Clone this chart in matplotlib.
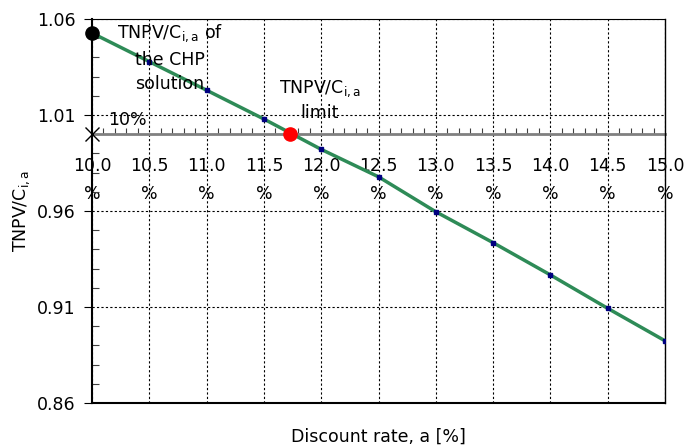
import numpy as np
import matplotlib.pyplot as plt
from matplotlib.ticker import MultipleLocator

rates = [10.0, 10.5, 11.0, 11.5, 12.0, 12.5, 13.0, 13.5, 14.0, 14.5, 15.0]
tnpv = [1.0527, 1.0378, 1.0229, 1.0079, 0.9921, 0.9778, 0.9596, 0.9435, 0.9267, 0.9093, 0.8924]
chp_rate, chp_value = 10.0, 1.0527
limit_rate, limit_value = 11.73, 1.0
yticks = [0.86, 0.91, 0.96, 1.01, 1.06]

plt.rcParams['font.family'] = 'DejaVu Sans'
plt.rcParams['font.size'] = 12.5

fig = plt.figure(figsize=(6.88, 4.47), dpi=100)
ax = fig.add_axes([0.1337, 0.0984, 0.8329, 0.8591])

ax.plot(rates, tnpv, color='#2e8b57', lw=2.5, zorder=3)
ax.plot(rates, tnpv, 's', color='#000080', ms=3, zorder=4)
ax.plot(chp_rate, chp_value, 'o', color='black', ms=9.5, zorder=5, clip_on=False)
ax.plot(limit_rate, limit_value, 'o', color='red', ms=9.5, zorder=5)
ax.plot(chp_rate, limit_value, 'x', color='black', ms=10, mew=1, zorder=5, clip_on=False)

ax.set_xlim(10.0, 15.0)
ax.set_ylim(0.86, 1.06)
ax.set_xticks(rates)
ax.set_xticklabels([f"{r:.1f}\n%" for r in rates])
ax.set_yticks(yticks)
ax.set_yticklabels([f"{v:.2f}" for v in yticks])
ax.xaxis.set_minor_locator(MultipleLocator(0.1))
ax.yaxis.set_minor_locator(MultipleLocator(0.01))

# x axis crosses at 1.0
ax.spines['bottom'].set_position(('data', 1.0))
ax.spines['bottom'].set_color('#808080')
ax.spines['bottom'].set_linewidth(2)
ax.spines['bottom'].set_zorder(2)
ax.spines['left'].set_linewidth(1.5)
ax.spines['right'].set_linewidth(1)
ax.spines['top'].set_linewidth(0.8)
ax.plot([0, 1], [0, 0], transform=ax.transAxes, color='black', lw=1.5, clip_on=False)

ax.tick_params(axis='x', which='major', length=0, pad=16.5, labelsize=12.5)
ax.tick_params(axis='x', which='minor', direction='in', length=4, color='#404040', width=0.8)
ax.tick_params(axis='y', which='major', direction='out', length=6, pad=6, labelsize=12.5)
ax.tick_params(axis='y', which='minor', direction='in', length=5, width=0.8, color='#404040')
for lbl in ax.get_xticklabels():
    lbl.set_linespacing(1.7)

ax.grid(True, which='major', color='black', lw=0.8, linestyle=(0, (2, 2)))

ax.text(10.68, 1.0397, "TNPV/C$_{\\mathrm{i,a}}$ of\nthe CHP\nsolution",
        ha='center', va='center', linespacing=1.45, zorder=6)
ax.text(11.99, 1.0178, "TNPV/C$_{\\mathrm{i,a}}$\nlimit",
        ha='center', va='center', linespacing=1.35, zorder=6)
ax.text(10.305, 1.0074, "10%", ha='center', va='center', zorder=6)

ax.set_xlabel("Discount rate, a [%]", va='center')
ax.xaxis.set_label_coords(0.5, -0.0885)
ax.set_ylabel("TNPV/C$_{\\mathrm{i,a}}$", va='center')
ax.yaxis.set_label_coords(-0.122, 0.5)

fig.savefig('out.png', dpi=100)
